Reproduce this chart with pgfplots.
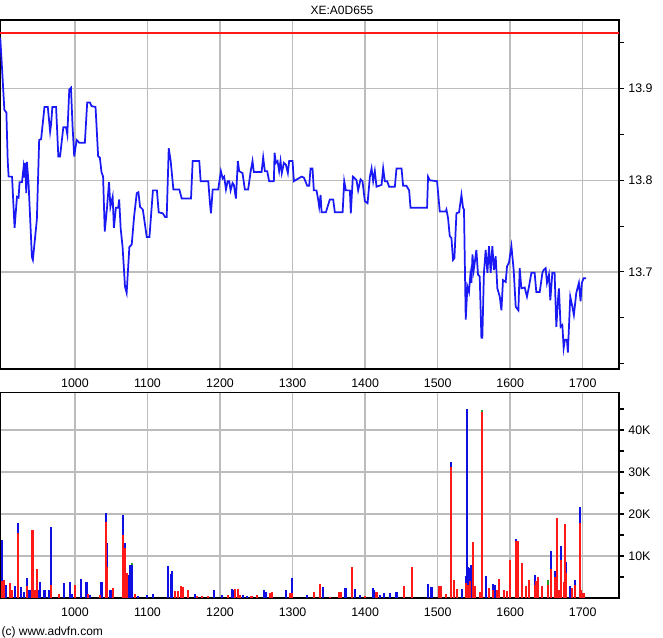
\documentclass[border=0pt]{standalone}
\usepackage{fontspec}
\setmainfont{Liberation Sans}
\usepackage{pgfplots}
\pgfplotsset{compat=1.18}

\definecolor{gridgray}{RGB}{188,188,188}
\definecolor{priceblue}{RGB}{25,25,245}
\definecolor{volred}{RGB}{255,25,25}
\definecolor{volblue}{RGB}{15,15,225}
\definecolor{volgreen}{RGB}{40,160,40}

\pgfplotsset{
  advfn/.style={
    scale only axis,
    anchor=south west,
    width=464.25pt,
    xmin=896.7, xmax=1750,
    xtick={1000,1100,1200,1300,1400,1500,1600,1700},
    grid=major,
    major grid style={gridgray, line width=1.1pt},
    axis line style={black, line width=1.2pt},
    ytick pos=right,
    tick align=outside,
    x tick style={draw=none},
    y tick style={black, line width=0.8pt},
    major tick length=3.5pt,
    minor tick length=3.5pt,
    tick label style={font=\fontsize{9.3}{10}\selectfont},
    /pgf/number format/assume math mode=true,
    /pgf/number format/set thousands separator={},
  }
}

\begin{document}
\begin{tikzpicture}
\useasboundingbox (0pt,0pt) rectangle (497.25pt,478.5pt);

% price panel
\begin{axis}[advfn,
    at={(0pt,201.75pt)},
    height=261.75pt,
    ymin=13.594, ymax=13.975,
    ytick={13.7,13.8,13.9},
    minor ytick={13.6,13.65,13.75,13.85,13.95},
    yticklabel style={/pgf/number format/fixed, /pgf/number format/precision=1},
  ]
  \addplot[volred, line width=1.3pt] coordinates {(896.7,13.961) (1750,13.961)};
  \addplot[priceblue, line width=1.3pt] coordinates {
    (897,13.956) (899.6,13.921) (902.7,13.877) (905.5,13.874) (907.3,13.822)
    (908.6,13.804) (913.3,13.804) (916.8,13.748) (920.1,13.782) (922.3,13.781)
    (923.7,13.798) (927,13.798) (929.2,13.814) (930.5,13.803) (931.5,13.819)
    (932.9,13.786) (933.8,13.820) (936,13.798) (940.7,13.716) (942,13.713)
    (947.5,13.757) (950.7,13.844) (953.4,13.845) (958,13.880) (962.6,13.880)
    (965.8,13.853) (967.1,13.861) (968.9,13.880) (974,13.880) (977.1,13.826)
    (979.5,13.826) (984,13.858) (987.7,13.858) (989.5,13.850) (992.2,13.899)
    (994.5,13.901) (996.8,13.858) (999,13.826) (1002.3,13.844) (1005.9,13.841)
    (1013.7,13.841) (1016.9,13.885) (1020.6,13.885) (1022.9,13.881) (1028.4,13.880)
    (1032,13.826) (1034.3,13.825) (1036.6,13.809) (1038.8,13.804) (1041.1,13.744)
    (1044.3,13.771) (1047,13.798) (1048.9,13.771) (1052,13.782) (1053.7,13.748)
    (1056.5,13.770) (1059.6,13.770) (1061,13.779) (1063,13.748) (1065.7,13.727)
    (1069,13.684) (1071.3,13.677) (1075,13.727) (1078.3,13.730) (1081.5,13.760)
    (1085.2,13.786) (1087.5,13.787) (1089.8,13.771) (1093.6,13.768) (1099,13.738)
    (1102.7,13.738) (1107.5,13.789) (1113,13.789) (1115.5,13.765) (1121,13.764)
    (1124.2,13.760) (1126.5,13.760) (1129.3,13.835) (1132,13.821) (1135.7,13.790)
    (1143.9,13.790) (1147.2,13.780) (1160,13.780) (1162.3,13.821) (1171.4,13.821)
    (1173.3,13.799) (1183.8,13.799) (1186.1,13.775) (1187.5,13.764) (1189.9,13.790)
    (1197.5,13.790) (1201.2,13.810) (1203.6,13.802) (1205.7,13.804) (1208.2,13.790)
    (1210.5,13.799) (1212.7,13.799) (1214.6,13.789) (1217.3,13.797) (1219.1,13.795)
    (1221.9,13.780) (1224.6,13.821) (1226.4,13.810) (1228.3,13.809) (1231,13.808)
    (1234.2,13.790) (1238.8,13.790) (1242.1,13.809) (1244.8,13.821) (1246.6,13.809)
    (1257.3,13.809) (1259.5,13.825) (1261.8,13.810) (1265,13.810) (1267.7,13.799)
    (1274.2,13.799) (1275.2,13.830) (1277,13.819) (1279.3,13.821) (1281.5,13.810)
    (1283.4,13.821) (1285.2,13.808) (1288,13.819) (1290.8,13.817) (1293.5,13.808)
    (1295.3,13.821) (1300,13.821) (1301.8,13.799) (1312.4,13.804) (1315.6,13.803)
    (1320.2,13.794) (1322.9,13.794) (1324.8,13.813) (1327.5,13.813) (1329.3,13.789)
    (1333,13.789) (1335.3,13.779) (1336.7,13.771) (1338.6,13.784) (1340,13.765)
    (1345.9,13.765) (1349,13.773) (1351.4,13.779) (1356,13.779) (1358.3,13.765)
    (1369,13.765) (1371.2,13.799) (1373.5,13.789) (1379,13.789) (1380.3,13.764)
    (1383.1,13.804) (1384.8,13.803) (1388.2,13.800) (1390.4,13.789) (1393.7,13.801)
    (1396.4,13.799) (1399.7,13.777) (1403.4,13.775) (1406.6,13.804) (1408.9,13.813)
    (1411.1,13.799) (1413.4,13.810) (1415.7,13.793) (1422.7,13.795) (1424.9,13.813)
    (1427.2,13.799) (1430.4,13.799) (1433.1,13.793) (1441,13.793) (1443.3,13.813)
    (1450.2,13.813) (1452.4,13.794) (1457,13.794) (1460.7,13.789) (1462.6,13.770)
    (1485.4,13.770) (1486.8,13.804) (1489.2,13.800) (1499.2,13.799) (1502.9,13.766)
    (1511.2,13.766) (1512.1,13.768) (1514.3,13.759) (1516.7,13.739) (1519,13.737)
    (1521.2,13.713) (1523.1,13.715) (1525.9,13.764) (1529.5,13.765) (1532.8,13.784)
    (1535,13.770) (1536.3,13.768) (1538.7,13.648) (1541,13.684) (1543.2,13.678)
    (1545.1,13.697) (1546.6,13.688) (1548,13.719) (1549.7,13.702) (1551.1,13.710)
    (1553.4,13.724) (1555.6,13.697) (1558,13.695) (1560.3,13.628) (1561.6,13.628)
    (1563.8,13.699) (1566.2,13.724) (1568.6,13.699) (1570.8,13.728) (1573.1,13.699)
    (1575.4,13.728) (1577.6,13.702) (1580,13.717) (1582.3,13.682) (1585.6,13.673)
    (1587.9,13.658) (1590.1,13.691) (1593.8,13.689) (1595.6,13.706) (1598.3,13.710)
    (1601.7,13.728) (1604.8,13.702) (1607.6,13.662) (1611.3,13.658) (1613.1,13.704)
    (1615.4,13.682) (1620,13.683) (1623.1,13.673) (1625.9,13.684) (1629.2,13.699)
    (1633.7,13.699) (1636,13.678) (1640.7,13.678) (1644.4,13.699) (1646.1,13.702)
    (1648.9,13.704) (1650.7,13.688) (1653.4,13.697) (1655.3,13.669) (1658.1,13.699)
    (1661.2,13.699) (1663.6,13.640) (1665.8,13.669) (1667.2,13.682) (1669.5,13.640)
    (1671.9,13.642) (1673.7,13.617) (1675.4,13.626) (1678.2,13.626) (1679.5,13.612)
    (1682.8,13.673) (1685.7,13.662) (1687.8,13.653) (1691.1,13.677) (1694.7,13.688)
    (1697,13.668) (1698.8,13.688) (1701.1,13.693) (1704.8,13.693)
  };
\end{axis}

% volume panel (values in thousands)
\begin{axis}[advfn,
    at={(0pt,30pt)},
    height=154pt,
    ymin=0, ymax=48.9,
    ytick={10,20,30,40},
    yticklabels={10K,20K,30K,40K},
    minor ytick={5,15,25,35,45},
  ]
  \addplot[ycomb, volgreen, line width=1.6pt, mark=none] coordinates {
    (1561.6,44.8) (1652,4.2) (1078.2,8.3)
  };
  \addplot[ycomb, volblue, line width=1.6pt, mark=none] coordinates {
    (899.6,13.8) (904.6,3.0) (917.4,2.8) (921,17.8) (925.6,2.6) (929.2,1.5)
    (933.8,4.8) (937.4,2.0) (947.5,2.0) (949.7,2.0) (952,3.7) (958,2.0)
    (964.8,2.0) (966.7,16.8) (985,3.5) (993.2,3.8) (995.5,1.0) (1007.8,4.6)
    (1016,3.8) (1020.6,0.8) (1036.6,3.8) (1042.5,20.3) (1044.3,13.2) (1049,2.0)
    (1065.7,19.8) (1069.3,13.2) (1073.5,5.5) (1075.8,7.9) (1078.2,7.9) (1087.4,0.5)
    (1099,0.6) (1107.3,1.0) (1128.7,7.6) (1132,5.6) (1133.8,6.5) (1165.5,1.0)
    (1192,1.9) (1202.2,0.7) (1216,2.1) (1218.2,1.9) (1232,0.7) (1236.6,0.5)
    (1260.5,1.9) (1262.8,1.5) (1290.4,1.9) (1298.7,4.7) (1319.3,0.7) (1342.3,2.7)
    (1373,2.5) (1386,2.1) (1392.8,0.7) (1410.3,2.5) (1412.5,1.9) (1420.4,0.7)
    (1426.3,1.1) (1434.2,1.1) (1443.3,1.5) (1486.8,3.3) (1491.6,2.6) (1518.1,32.5)
    (1534.1,2.2) (1538.7,5.2) (1540.5,45.0) (1541.9,7.5) (1544.2,7.1) (1546.6,7.9)
    (1566.2,5.3) (1576.3,3.3) (1578.6,3.0) (1608.5,14.0) (1633.7,5.4) (1655.7,11.1)
    (1661.2,6.5) (1670.5,12.3) (1677.3,8.6) (1682.8,2.8) (1689.8,4.4) (1695.7,21.6)
  };
  \addplot[ycomb, volred, line width=1.6pt, mark=none] coordinates {
    (899.6,4.0) (901.8,4.3) (910,3.6) (913.3,2.0) (921,15.4) (933.8,2.8)
    (941.5,16.2) (945.2,2.0) (947.5,6.9) (966.7,3.0) (978.5,1.0) (1000,3.2)
    (1018.2,1.0) (1034.3,0.8) (1042.5,18.0) (1044.3,7.5) (1052.5,2.4) (1065.7,15.0)
    (1067.5,6.0) (1069.3,12.0) (1071.3,6.0) (1083,1.0) (1138,1.6) (1142.6,1.6)
    (1145.8,2.9) (1149.4,2.7) (1156.2,2.0) (1167.8,0.5) (1174.7,0.5) (1183.8,0.5)
    (1211.3,0.8) (1220.5,2.1) (1224.2,2.1) (1227.3,0.7) (1243.4,0.5) (1251.2,0.7)
    (1268.7,1.1) (1271.8,1.5) (1296.4,1.1) (1299.5,1.1) (1329.8,1.5) (1337.7,3.3)
    (1351.4,0.3) (1363.8,1.5) (1366.2,1.5) (1381.4,7.5) (1399.7,0.5) (1415.7,1.5)
    (1453.8,2.9) (1464.9,7.5) (1502,2.8) (1503.9,2.9) (1512.1,1.0) (1518.1,31.3)
    (1522.2,4.4) (1526.8,2.1) (1538.7,3.5) (1541.9,3.0) (1544.2,4.0) (1548.8,13.3)
    (1551.1,2.8) (1558,1.4) (1561.6,44.4) (1570.4,2.5) (1576.3,2.0) (1581.8,2.0)
    (1584.1,4.6) (1591,1.8) (1595.6,1.6) (1600.3,9.1) (1608.5,13.5) (1610.8,13.5)
    (1616.8,8.3) (1622.3,2.9) (1625.9,4.4) (1633.7,3.0) (1636,4.0) (1638.2,5.0)
    (1644.4,2.9) (1652,3.0) (1655.7,7.0) (1661.2,5.0) (1664.9,19.0) (1667.1,2.0)
    (1670.5,9.0) (1673.7,3.7) (1675,17.6) (1677.3,6.0) (1685.7,2.4) (1689.8,3.0)
    (1695.7,17.9) (1698,1.8) (1701.1,1.3)
  };
\end{axis}

\node[font=\fontsize{9}{10}\selectfont] at (256.5pt,471pt) {XE:A0D655};
\node[font=\fontsize{9}{10}\selectfont, anchor=west, inner sep=0pt] at (1pt,4.5pt) {(c) www.advfn.com};
\end{tikzpicture}
\end{document}
